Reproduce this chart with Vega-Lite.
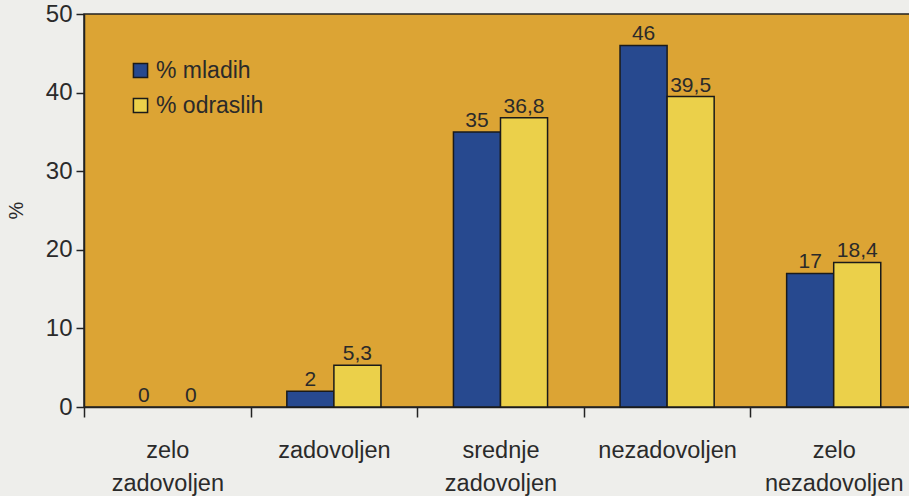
{
  "$schema": "https://vega.github.io/schema/vega-lite/v6.json",
  "width": 833,
  "height": 393,
  "autosize": {"type": "none"},
  "padding": {"left": 84, "top": 14, "right": 0, "bottom": 89},
  "background": "#eeeeeb",
  "config": {
    "view": {"fill": "#dca434", "stroke": "#222222", "strokeWidth": 1.5},
    "font": "Liberation Sans",
    "axis": {"grid": false, "domainColor": "#222222", "tickColor": "#222222", "labelColor": "#2a2a2a", "titleColor": "#2a2a2a"}
  },
  "data": {
    "values": [
      {"cat": "zelo zadovoljen", "grupa": "% mladih", "v": 0, "lab": "0"},
      {"cat": "zelo zadovoljen", "grupa": "% odraslih", "v": 0, "lab": "0"},
      {"cat": "zadovoljen", "grupa": "% mladih", "v": 2, "lab": "2"},
      {"cat": "zadovoljen", "grupa": "% odraslih", "v": 5.3, "lab": "5,3"},
      {"cat": "srednje zadovoljen", "grupa": "% mladih", "v": 35, "lab": "35"},
      {"cat": "srednje zadovoljen", "grupa": "% odraslih", "v": 36.8, "lab": "36,8"},
      {"cat": "nezadovoljen", "grupa": "% mladih", "v": 46, "lab": "46"},
      {"cat": "nezadovoljen", "grupa": "% odraslih", "v": 39.5, "lab": "39,5"},
      {"cat": "zelo nezadovoljen", "grupa": "% mladih", "v": 17, "lab": "17"},
      {"cat": "zelo nezadovoljen", "grupa": "% odraslih", "v": 18.4, "lab": "18,4"}
    ]
  },
  "encoding": {
    "x": {
      "field": "cat", "type": "nominal",
      "scale": {"domain": ["zelo zadovoljen", "zadovoljen", "srednje zadovoljen", "nezadovoljen", "zelo nezadovoljen"], "paddingInner": 0, "paddingOuter": 0},
      "axis": {
        "title": null, "labelAngle": 0, "tickBand": "extent", "tickSize": 10, "tickWidth": 1.5,
        "domainWidth": 1.5, "labelFontSize": 23.5, "labelPadding": 21, "labelLineHeight": 33,
        "labelExpr": "split(datum.label, ' ')", "labelBaseline": "top"
      }
    },
    "xOffset": {"field": "grupa", "type": "nominal", "scale": {"domain": ["% mladih", "% odraslih"], "paddingInner": 0, "paddingOuter": 0.77}},
    "y": {
      "field": "v", "type": "quantitative",
      "scale": {"domain": [0, 50], "nice": false},
      "axis": {"title": "%", "values": [0, 10, 20, 30, 40, 50], "tickSize": 8, "tickWidth": 1.5, "domainWidth": 1.5,
        "labelFontSize": 24, "labelPadding": 4, "titleFontSize": 20, "titleFontWeight": "normal",
        "titleX": -58, "titleY": 196, "titleAngle": -90}
    }
  },
  "layer": [
    {
      "transform": [{"filter": "datum.v > 0"}],
      "mark": {"type": "bar", "stroke": "#1a1a1a", "strokeWidth": 1.5},
      "encoding": {
        "color": {
          "field": "grupa", "type": "nominal",
          "scale": {"domain": ["% mladih", "% odraslih"], "range": ["#27498f", "#ebd04a"]},
          "legend": {
            "title": null, "orient": "none", "legendX": 45, "legendY": 45,
            "symbolType": "square", "symbolSize": 200, "symbolStrokeColor": "#1a1a1a", "symbolStrokeWidth": 1.5,
            "labelFontSize": 23, "labelColor": "#2a2a2a", "rowPadding": 11, "labelOffset": 4
          }
        }
      }
    },
    {
      "mark": {"type": "text", "baseline": "alphabetic", "dy": -5, "fontSize": 21, "color": "#2a2a2a"},
      "encoding": {"text": {"field": "lab"}}
    }
  ]
}
